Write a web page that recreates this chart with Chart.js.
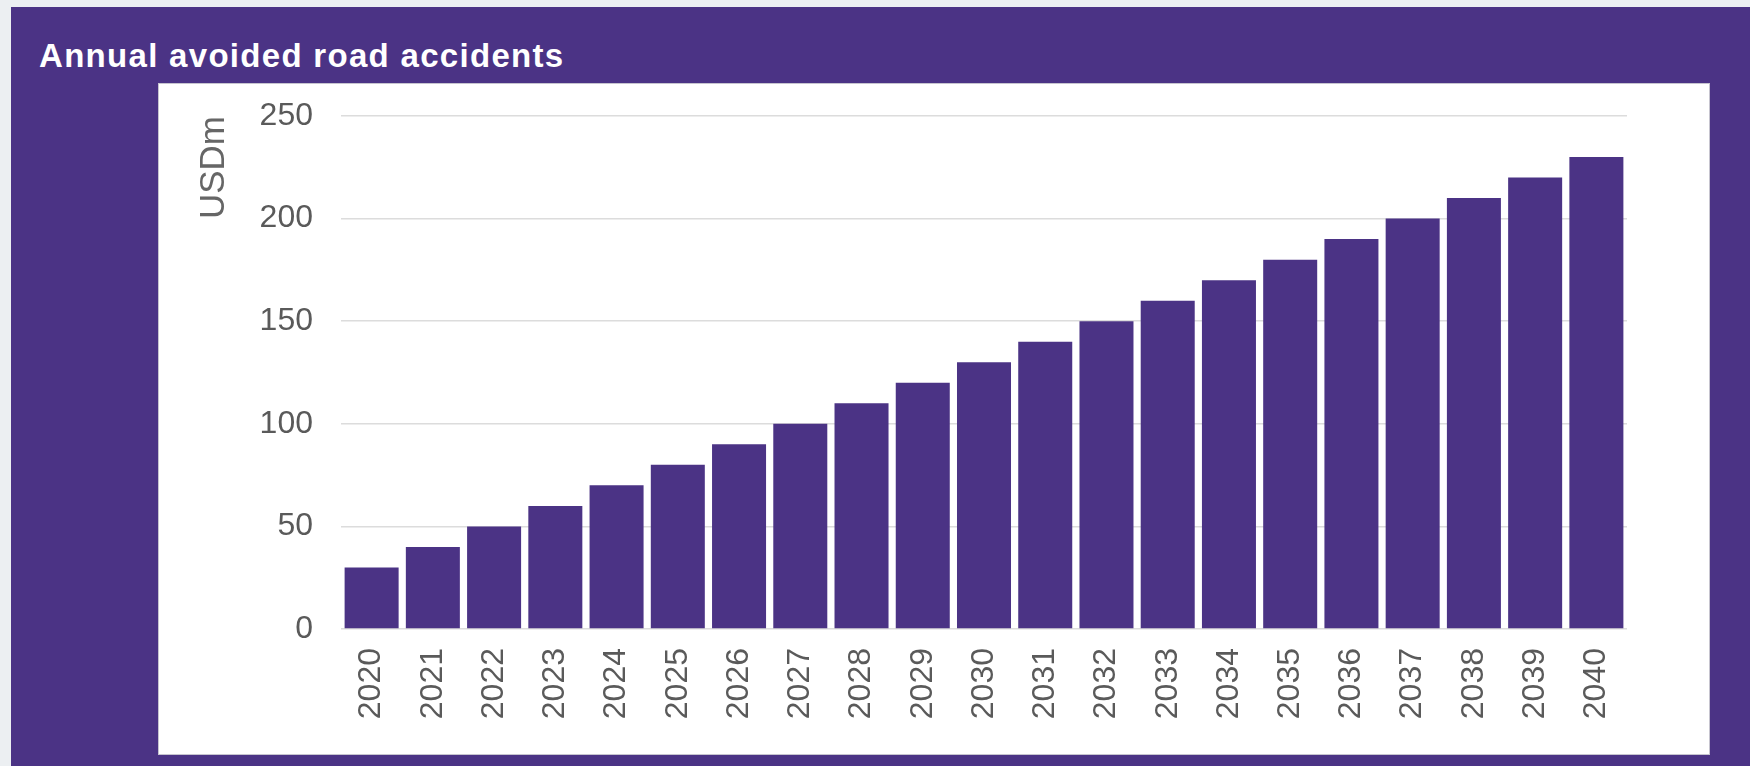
<!DOCTYPE html>
<html>
<head>
<meta charset="utf-8">
<script src="https://cdn.jsdelivr.net/npm/chart.js@4"></script>
<style>
    html, body {
        margin: 0;
        padding: 0;
        width: 1750px;
        height: 766px;
        overflow: hidden;
        background: #eceff2;
    }

    #panel {
        position: absolute;
        left: 11px;
        top: 7px;
        right: 0;
        bottom: 0;
        background: #4b3385;
    }

    #panelTitle {
        position: absolute;
        left: 28px;
        top: 32px;
        margin: 0;
        font-family: 'Liberation Sans', Arial, sans-serif;
        font-weight: bold;
        font-size: 33px;
        letter-spacing: 1.3px;
        line-height: 1;
        color: #ffffff;
        white-space: nowrap;
    }

    #chartBox {
        position: absolute;
        left: 147px;
        top: 76px;
        width: 1550px;
        height: 670px;
        background: #ffffff;
        border: 1px solid #c6c4cf;
    }
</style>
</head>
<body>

<div id="panel">
    <h2 id="panelTitle">Annual avoided road accidents</h2>
    <div id="chartBox">
        <canvas id="accidentsChart" width="1550" height="670"></canvas>
    </div>
</div>

<script>
// données du graphique
const years = ['2020', '2021', '2022', '2023', '2024', '2025', '2026', '2027', '2028', '2029', '2030',
    '2031', '2032', '2033', '2034', '2035', '2036', '2037', '2038', '2039', '2040'];
const avoidedCosts = [30, 40, 50, 60, 70, 80, 90, 100, 110, 120, 130,
    140, 150, 160, 170, 180, 190, 200, 210, 220, 230];
const yTicks = [0, 50, 100, 150, 200, 250];
const yAxisTitle = 'USDm';

const axisFont = "'Liberation Sans', Arial, sans-serif";

document.addEventListener("DOMContentLoaded", function () {
    createBarChart();
});

function createBarChart() {
    const ctx = document.getElementById('accidentsChart').getContext('2d');

    new Chart(ctx, {
        type: 'bar',
        data: {
            labels: years,
            datasets: [{
                label: yAxisTitle,
                data: avoidedCosts,
                backgroundColor: '#4b3385',
                borderWidth: 0,
                categoryPercentage: 1,
                barPercentage: 0.882,
            }]
        },
        options: {
            responsive: false,
            animation: false,
            layout: {
                padding: { top: 32, right: 82, bottom: 0, left: 0 }
            },
            plugins: {
                legend: { display: false },
                title: { display: false },
                tooltip: { enabled: false }
            },
            scales: {
                x: {
                    grid: { display: false },
                    border: { display: false },
                    ticks: {
                        autoSkip: false,
                        minRotation: 90,
                        maxRotation: 90,
                        padding: 11,
                        color: '#5a5a5a',
                        font: { family: axisFont, size: 32 }
                    },
                    afterFit: function (scale) {
                        scale.height = 125;
                    }
                },
                y: {
                    min: yTicks[0],
                    max: yTicks[yTicks.length - 1],
                    afterBuildTicks: function (scale) {
                        scale.ticks = yTicks.map(v => ({ value: v }));
                    },
                    grid: {
                        color: '#dcdcdc',
                        lineWidth: 1.5,
                        drawTicks: false
                    },
                    border: { display: false },
                    ticks: {
                        padding: 28,
                        color: '#5a5a5a',
                        font: { family: axisFont, size: 32 }
                    },
                    title: {
                        display: true,
                        text: yAxisTitle,
                        align: 'end',
                        color: '#666666',
                        padding: { top: 34, bottom: 0 },
                        font: { family: axisFont, size: 35 }
                    },
                    afterFit: function (scale) {
                        // largeur fixe et pas de marge auto en haut / bas
                        scale.width = 182;
                        scale.paddingTop = 0;
                        scale.paddingBottom = 0;
                    }
                }
            }
        }
    });
}
</script>
</body>
</html>
